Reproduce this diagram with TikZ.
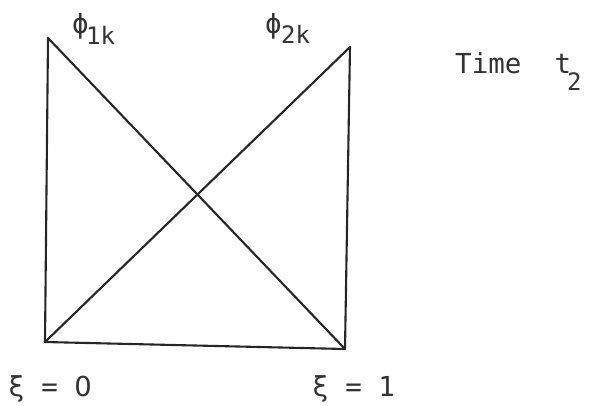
\documentclass[tikz,border=0pt]{standalone}
\usepackage{fontspec}
\setmainfont{DejaVu Sans Mono}
\newfontfamily\plainzero{DejaVu Sans}
\begin{document}
\begin{tikzpicture}[x=1pt,y=-1pt,
  edge/.style={line width=2.1pt, draw=black!85, line cap=round, line join=round},
  lbl/.style={inner sep=0pt, anchor=base west, text=black!80, font=\fontsize{27.5}{32}\selectfont},
  sub/.style={inner sep=0pt, anchor=base west, text=black!80, font=\fontsize{24}{28}\selectfont}]
\useasboundingbox (0,0) rectangle (590,405);
\coordinate (TL) at (48,38);
\coordinate (BL) at (45,342);
\coordinate (BR) at (345,349);
\coordinate (TR) at (350,47);
\draw[edge] (TL) -- (BL) -- (BR) -- (TR);
\draw[edge] (TL) -- (BR);
\draw[edge] (BL) -- (TR);
\node[lbl] (phiA) at (72,33) {ϕ};
\node[sub] (subA) at (86,44) {1k};
\node[lbl] (phiB) at (265,33) {ϕ};
\node[sub] (subB) at (281,43) {2k};
\node[lbl] (time) at (455,73) {Time\ \ t};
\node[sub] (subT) at (567,90) {2};
\node[lbl] (xiA) at (8,396) {ξ = {\plainzero 0}};
\node[lbl] (xiB) at (312,396) {ξ = 1};
\end{tikzpicture}
\end{document}
